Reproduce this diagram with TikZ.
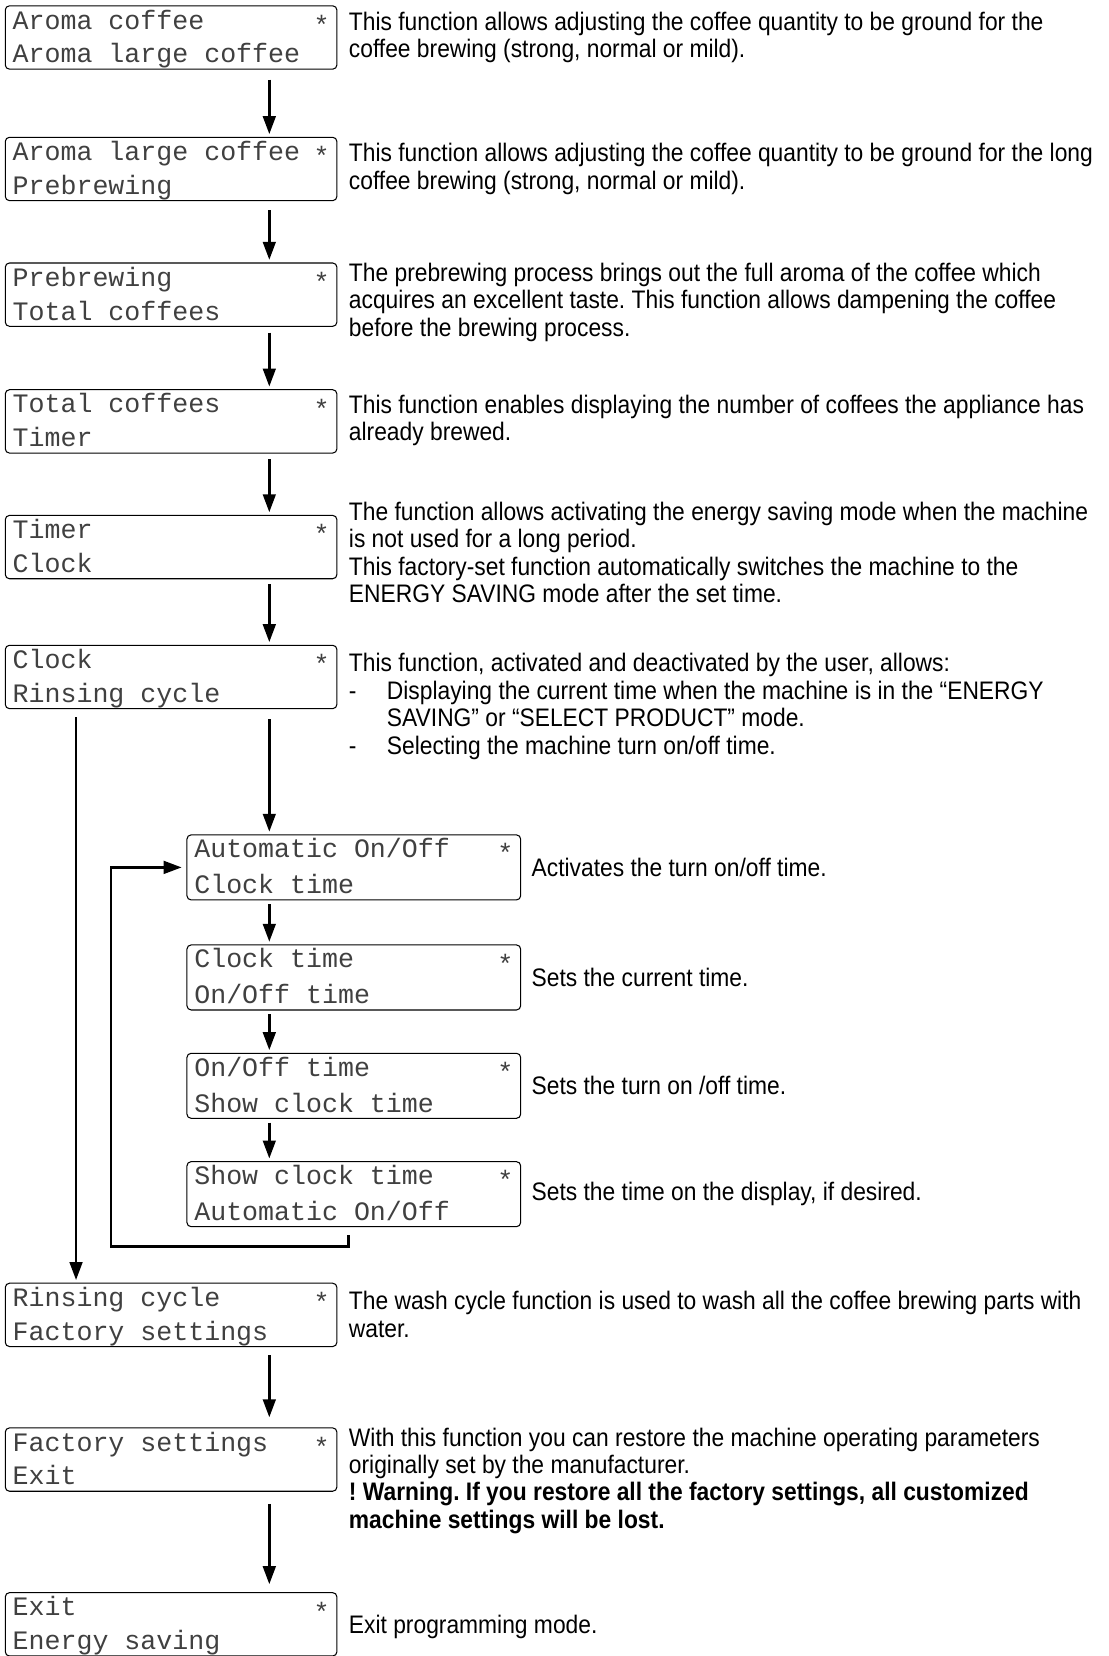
\documentclass[tikz,border=0pt]{standalone}
\usepackage{fontspec}
\setmainfont{Liberation Sans}[FakeStretch=0.9]
\newfontfamily\lcdfont{Liberation Mono}
\usetikzlibrary{arrows.meta, positioning, calc}
\frenchspacing
\newcommand{\lcdmark}{\raisebox{-2.5pt}{*}}

\begin{document}
\begin{tikzpicture}[
  x=0.5pt, y=-0.5pt,
  lcd/.style={draw, rounded corners=2pt, line width=0.5pt, outer sep=0pt, minimum width=157pt, text width=150pt, inner xsep=3.5pt, inner ysep=0pt, text height=11pt, text depth=19pt, align=flush left, font=\lcdfont\fontsize{12.6}{16}\selectfont, text=black!75},
  sublcd/.style={lcd, minimum width=158pt, text width=151pt, text height=10.8pt, text depth=20pt, font=\lcdfont\fontsize{12.6}{17}\selectfont},
  desc/.style={inner sep=0pt, text width=380pt, align=flush left, font=\fontsize{12}{13}\selectfont},
  arr/.style={-{Triangle[length=8.5pt, width=6pt]}, line width=1.2pt, shorten >=1.5pt},
]
\useasboundingbox (0,0) rectangle (1050,1568);

% arrow columns
\coordinate (ax) at (255,0);
\coordinate (bx) at (72,0);
\coordinate (lx) at (330,0);
\coordinate (lp) at (105,1180);

% main menu
\node[lcd, anchor=north west] (aroma) at (5,5.5) {Aroma coffee\hfill\lcdmark\\Aroma large coffee};
\node[lcd, below=32.25pt of aroma] (large) {Aroma large coffee\hfill\lcdmark\\Prebrewing};
\node[lcd, below=29.5pt of large] (prebrew) {Prebrewing\hfill\lcdmark\\Total coffees};
\node[lcd, below=30pt of prebrew] (total) {Total coffees\hfill\lcdmark\\Timer};
\node[lcd, below=29.5pt of total] (timer) {Timer\hfill\lcdmark\\Clock};
\node[lcd, below=31.5pt of timer] (clock) {Clock\hfill\lcdmark\\Rinsing cycle};
\node[lcd, below=272pt of clock] (rinse) {Rinsing cycle\hfill\lcdmark\\Factory settings};
\node[lcd, below=38.5pt of rinse] (factory) {Factory settings\hfill\lcdmark\\Exit};
\node[lcd, below=48pt of factory] (exitb) {Exit\hfill\lcdmark\\Energy saving};

% clock submenu
\node[sublcd, anchor=north west] (autoo) at (177,790.5) {Automatic On/Off\hfill\lcdmark\\Clock time};
\node[sublcd, below=21.3pt of autoo] (clktime) {Clock time\hfill\lcdmark\\On/Off time};
\node[sublcd, below=20.5pt of clktime] (onoff) {On/Off time\hfill\lcdmark\\Show clock time};
\node[sublcd, below=20.5pt of onoff] (showclk) {Show clock time\hfill\lcdmark\\Automatic On/Off};

% descriptions
\node[desc, anchor=north west] (daroma) at ([xshift=5.5pt, yshift=-2.7pt]aroma.north east)
  {This function allows adjusting the coffee quantity to be ground for the\\coffee brewing (strong, normal or mild).};
\node[desc, anchor=north west] (dlarge) at ([xshift=5.5pt, yshift=-2.7pt]large.north east)
  {This function allows adjusting the coffee quantity to be ground for the long\\coffee brewing (strong, normal or mild).};
\node[desc, anchor=north west] (dprebrew) at ([xshift=5.5pt, yshift=0.3pt]prebrew.north east)
  {The prebrewing process brings out the full aroma of the coffee which\\acquires an excellent taste. This function allows dampening the coffee\\before the brewing process.};
\node[desc, anchor=north west] (dtotal) at ([xshift=5.5pt, yshift=-2.2pt]total.north east)
  {This function enables displaying the number of coffees the appliance has\\already brewed.};
\node[desc, anchor=north west] (dtimer) at ([xshift=5.5pt, yshift=6.5pt]timer.north east)
  {The function allows activating the energy saving mode when the machine\\is not used for a long period.\\This factory-set function automatically switches the machine to the\\ENERGY SAVING mode after the set time.};
\node[desc, anchor=north west] (dclock) at ([xshift=5.5pt, yshift=-3.7pt]clock.north east)
  {This function, activated and deactivated by the user, allows:\\
   \makebox[18pt][l]{-}Displaying the current time when the machine is in the “ENERGY\\
   \hspace*{18pt}SAVING” or “SELECT PRODUCT” mode.\\
   \makebox[18pt][l]{-}Selecting the machine turn on/off time.};
\node[desc, anchor=west] (dautoo) at ([xshift=5pt]autoo.east) {Activates the turn on/off time.};
\node[desc, anchor=west] (dclktime) at ([xshift=5pt]clktime.east) {Sets the current time.};
\node[desc, anchor=west] (donoff) at ([xshift=5pt]onoff.east) {Sets the turn on /off time.};
\node[desc, anchor=west] (dshowclk) at ([xshift=5pt]showclk.east) {Sets the time on the display, if desired.};
\node[desc, anchor=north west] (drinse) at ([xshift=5.5pt, yshift=-3.7pt]rinse.north east)
  {The wash cycle function is used to wash all the coffee brewing parts with\\water.};
\node[desc, anchor=north west] (dfactory) at ([xshift=5.5pt, yshift=0.3pt]factory.north east)
  {With this function you can restore the machine operating parameters\\originally set by the manufacturer.\\
   \textbf{! Warning. If you restore all the factory settings, all customized}\\
   \textbf{machine settings will be lost.}};
\node[desc, anchor=west] (dexitb) at ([xshift=5.5pt, yshift=-1pt]exitb.east) {Exit programming mode.};

% connectors
\draw[arr] ([yshift=-5pt]aroma.south -| ax) -- (large.north -| ax);
\draw[arr] ([yshift=-4.5pt]large.south -| ax) -- (prebrew.north -| ax);
\draw[arr] ([yshift=-3pt]prebrew.south -| ax) -- (total.north -| ax);
\draw[arr] ([yshift=-3pt]total.south -| ax) -- (timer.north -| ax);
\draw[arr] ([yshift=-2.5pt]timer.south -| ax) -- (clock.north -| ax);
\draw[arr] ([yshift=-5pt]clock.south -| ax) -- (autoo.north -| ax);
\draw[arr] ([yshift=-4pt]clock.south -| bx) -- (rinse.north -| bx);
\draw[arr] ([yshift=-2pt]autoo.south -| ax) -- (clktime.north -| ax);
\draw[arr] ([yshift=-2pt]clktime.south -| ax) -- (onoff.north -| ax);
\draw[arr] ([yshift=-2pt]onoff.south -| ax) -- (showclk.north -| ax);
\draw[arr, shorten >=2.5pt] ([yshift=-4pt]showclk.south -| lx) -- (lx |- lp) -- (lp) |- (autoo.west);
\draw[arr, shorten >=5pt] ([yshift=-4pt]rinse.south -| ax) -- (factory.north -| ax);
\draw[arr, shorten >=4pt] ([yshift=-6pt]factory.south -| ax) -- (exitb.north -| ax);
\end{tikzpicture}
\end{document}
